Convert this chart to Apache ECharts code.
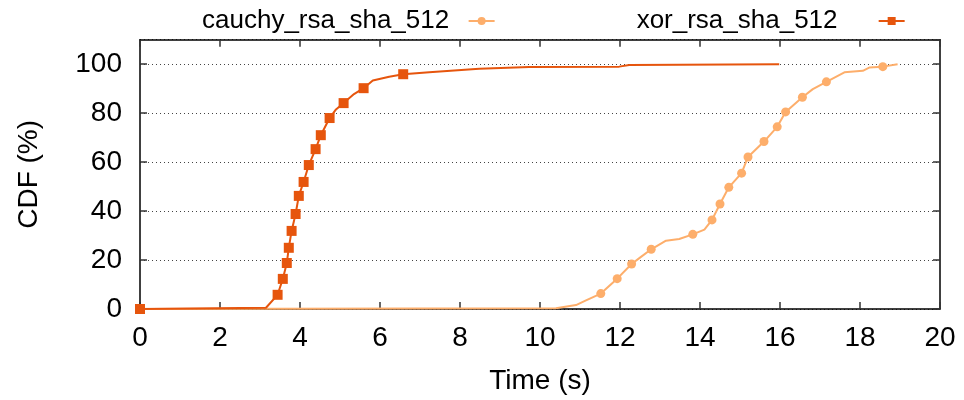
<!DOCTYPE html>
<html>
<head>
<meta charset="utf-8">
<script src="https://cdn.jsdelivr.net/npm/echarts@6/dist/echarts.min.js"></script>
<style>html,body{margin:0;padding:0;background:#fff}#c{width:964px;height:400px}</style>
</head>
<body>
<div id="c"></div>
<script>
// ---- data ----
const seriesNames = ['cauchy_rsa_sha_512', 'xor_rsa_sha_512'];
const xTicks = [0, 2, 4, 6, 8, 10, 12, 14, 16, 18, 20];
const yTicks = [0, 20, 40, 60, 80, 100];

const cauchyTime = [0, 10.4, 10.9, 11.15, 11.52, 11.93, 12.29, 12.5, 12.78, 13.15, 13.48, 13.82, 14.11, 14.30, 14.50, 14.72, 15.04, 15.20, 15.60, 15.93, 16.14, 16.56, 16.82, 17.16, 17.61, 18.07, 18.23, 18.57, 18.94];
const cauchyCdf  = [0, 0.3, 1.6, 3.5, 6.3, 12.4, 18.4, 21.0, 24.4, 27.9, 28.6, 30.5, 32.4, 36.4, 42.9, 49.7, 55.5, 62.1, 68.4, 74.4, 80.5, 86.5, 89.8, 92.8, 96.7, 97.3, 98.6, 99.0, 100];
const cauchyMarkTime = [11.52, 11.93, 12.29, 12.78, 13.82, 14.30, 14.50, 14.72, 15.04, 15.20, 15.60, 15.93, 16.14, 16.56, 17.16, 18.57];

const xorTime = [0, 3.15, 3.44, 3.57, 3.67, 3.72, 3.79, 3.89, 3.97, 4.09, 4.22, 4.39, 4.52, 4.74, 4.9, 5.09, 5.35, 5.59, 5.82, 6.23, 6.58, 7.23, 8.48, 9.73, 11.98, 12.23, 13.5, 15.98];
const xorCdf  = [0, 0.5, 5.8, 12.3, 18.8, 25.0, 31.9, 38.8, 46.2, 51.9, 58.8, 65.3, 71.0, 78.0, 81.5, 84.1, 87.8, 90.2, 93.3, 94.9, 95.9, 96.7, 98.1, 98.8, 99.0, 99.7, 99.8, 100];
const xorMarkTime = [0, 3.44, 3.57, 3.67, 3.72, 3.79, 3.89, 3.97, 4.09, 4.22, 4.39, 4.52, 4.74, 5.09, 5.59, 6.58];

// ---- build ----
function build(times, cdfs, marks, sym) {
  return times.map((t, i) => ({ value: [t, cdfs[i]], symbol: marks.includes(t) ? sym : 'none' }));
}
const FONT = 'Liberation Sans';
const FS = 28;
const axisLine = { show: true, onZero: false, lineStyle: { color: '#000', width: 1.5 } };
const axisTick = { show: true, inside: true, length: 7, lineStyle: { color: '#333', width: 1.5 } };

const chart = echarts.init(document.getElementById('c'), null, { renderer: 'canvas' });
chart.setOption({
  animation: false,
  backgroundColor: '#fff',
  textStyle: { fontFamily: FONT },
  grid: { left: 140, right: 24, top: 39.7, bottom: 90.5, containLabel: false },
  legend: {
    data: seriesNames,
    top: 3, left: 197,
    align: 'right',
    itemWidth: 26, itemHeight: 10, itemGap: 141,
    formatter: n => n + (n === seriesNames[1] ? '     ' : '  '),
    textStyle: { fontFamily: FONT, fontSize: 26, color: '#000' },
    selectedMode: false
  },
  xAxis: [{
    type: 'value', min: xTicks[0], max: xTicks[xTicks.length - 1], interval: xTicks[1] - xTicks[0],
    position: 'bottom',
    name: 'Time (s)', nameLocation: 'middle', nameGap: 58,
    nameTextStyle: { fontFamily: FONT, fontSize: FS, color: '#000' },
    axisLine, axisTick,
    axisLabel: { fontFamily: FONT, fontSize: FS, color: '#000', margin: 15 },
    splitLine: { show: false }
  }, {
    type: 'value', min: xTicks[0], max: xTicks[xTicks.length - 1], interval: xTicks[1] - xTicks[0],
    position: 'top', axisLine, axisTick, axisLabel: { show: false }, splitLine: { show: false }
  }],
  yAxis: [{
    type: 'value', min: yTicks[0], max: 110, interval: yTicks[1] - yTicks[0],
    position: 'left',
    name: 'CDF (%)', nameLocation: 'middle', nameGap: 97,
    nameTextStyle: { fontFamily: FONT, fontSize: FS, color: '#000' },
    axisLine, axisTick,
    axisLabel: { fontFamily: FONT, fontSize: FS, color: '#000', margin: 18, showMaxLabel: false,
      formatter: v => (yTicks.includes(v) ? String(v) : '') },
    splitLine: { show: true, lineStyle: { color: '#444', type: [1, 3], width: 1 } }
  }, {
    type: 'value', min: yTicks[0], max: 110, interval: yTicks[1] - yTicks[0],
    position: 'right', axisLine, axisTick, axisLabel: { show: false }, splitLine: { show: false }
  }],
  series: [{
    name: seriesNames[0], type: 'line',
    data: build(cauchyTime, cauchyCdf, cauchyMarkTime, 'circle'),
    symbol: 'circle', symbolSize: 9, showAllSymbol: true, clip: false,
    lineStyle: { color: '#fdae6b', width: 2 },
    itemStyle: { color: '#fdae6b' },
    emphasis: { disabled: true }, z: 2
  }, {
    name: seriesNames[1], type: 'line',
    data: build(xorTime, xorCdf, xorMarkTime, 'rect'),
    symbol: 'rect', symbolSize: 10, showAllSymbol: true, clip: false,
    lineStyle: { color: '#e6550d', width: 2 },
    itemStyle: { color: '#e6550d' },
    emphasis: { disabled: true }, z: 3
  }]
});
</script>
</body>
</html>
